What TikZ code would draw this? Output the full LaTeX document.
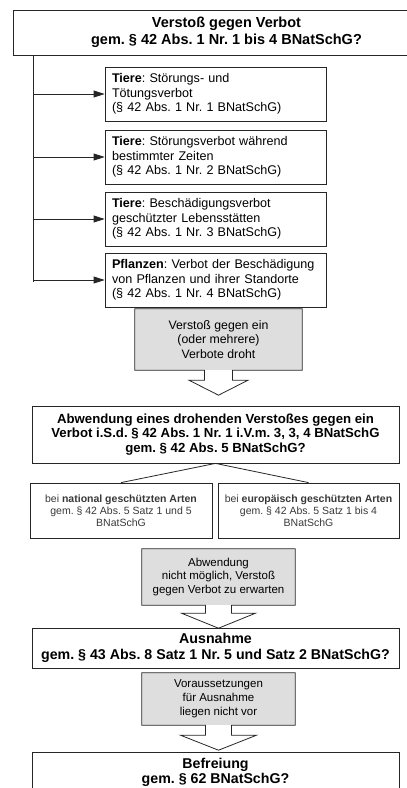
\documentclass[tikz,border=0pt]{standalone}
\usepackage{fontspec}
\setmainfont{Liberation Sans}
\frenchspacing
\usetikzlibrary{arrows.meta,calc}

\tikzset{
  frame/.style={draw=black!85, line width=0.8pt, rectangle, inner sep=0pt},
  verbot/.style={frame, minimum width=221pt, minimum height=54pt, text width=207pt,
    align=left, font=\fontsize{12.6}{14.5}\selectfont},
  frage/.style={frame, minimum width=367pt, align=center, font=\bfseries},
  art/.style={frame, minimum height=55pt, align=center, text=black!78,
    font=\fontsize{10.5}{12}\selectfont},
  folge/.style={fill=black!13, inner sep=0pt, align=center},
  pfeil/.style={draw=black!85, line width=0.8pt, -{Triangle[length=11pt,width=7pt]}},
  linie/.style={draw=black!85, line width=0.8pt}
}

\begin{document}
\begin{tikzpicture}[x=1pt,y=-1pt]
\useasboundingbox (0,0) rectangle (407,788);

% Ausgangsfrage
\node[frame, minimum width=427pt, minimum height=45pt, align=center,
  font=\fontsize{14.5}{17}\selectfont\bfseries] (frage) at (226.5,32.5)
  {Verstoß gegen Verbot\\gem. § 42 Abs. 1 Nr. 1 bis 4 BNatSchG?};

% die vier Verbote
\node[verbot] (tiere1) at (215.5,94) {\textbf{Tiere}: Störungs- und\\Tötungsverbot\\(§ 42 Abs. 1 Nr. 1 BNatSchG)};
\node[verbot] (tiere2) at (215.5,157) {\textbf{Tiere}: Störungsverbot während\\bestimmter Zeiten\\(§ 42 Abs. 1 Nr. 2 BNatSchG)};
\node[verbot] (tiere3) at (215.5,219) {\textbf{Tiere}: Beschädigungsverbot\\geschützter Lebensstätten\\(§ 42 Abs. 1 Nr. 3 BNatSchG)};
\node[verbot] (pflanzen) at (215.5,280) {\textbf{Pflanzen}: Verbot der Beschädigung\\von Pflanzen und ihrer Standorte\\(§ 42 Abs. 1 Nr. 4 BNatSchG)};

\coordinate (stamm) at (33,282);
\draw[linie] (frage.south -| stamm) -- (stamm);
\foreach \v in {tiere1,tiere2,tiere3,pflanzen}
  \draw[pfeil] (stamm |- \v.west) -- (\v.west);

% Verstoss droht
\node[folge, minimum width=167pt, minimum height=61pt,
  font=\fontsize{12.3}{14.5}\selectfont] (droht) at (218.5,339.5)
  {Verstoß gegen ein\\(oder mehrere)\\Verbote droht};

\node[frage, minimum height=57pt, font=\fontsize{13.2}{14.8}\selectfont\bfseries] (abwendung) at (215.5,434.5)
  {Abwendung eines drohenden Verstoßes gegen ein\\Verbot i.S.d. § 42 Abs. 1 Nr. 1 i.V.m. 3, 3, 4 BNatSchG\\gem. § 42 Abs. 5 BNatSchG?};

\node[art, minimum width=182pt] (national) at (121,510.5)
  {bei \textbf{national geschützten Arten}\\gem. § 42 Abs. 5 Satz 1 und 5\\BNatSchG};
\node[art, minimum width=181pt] (europa) at (308.5,510.5)
  {bei \textbf{europäisch geschützten Arten}\\gem. § 42 Abs. 5 Satz 1 bis 4\\BNatSchG};
\draw[linie] (abwendung.south) -- (national.north);
\draw[linie] (abwendung.south) -- (europa.north);

% Abwendung nicht moeglich
\node[folge, minimum width=153pt, minimum height=56pt,
  font=\fontsize{11.5}{13.7}\selectfont] (nichtmoeglich) at (218.5,577)
  {Abwendung\\nicht möglich, Verstoß\\gegen Verbot zu erwarten};

\node[frage, minimum height=40pt, font=\fontsize{14.2}{16}\selectfont\bfseries] (ausnahme) at (215.5,648)
  {Ausnahme\\gem. § 43 Abs. 8 Satz 1 Nr. 5 und Satz 2 BNatSchG?};

% keine Ausnahme
\node[folge, minimum width=153pt, minimum height=52pt,
  font=\fontsize{11.5}{14}\selectfont] (keine) at (218.5,699)
  {Voraussetzungen\\für Ausnahme\\liegen nicht vor};

\node[frage, minimum height=40pt, font=\fontsize{14.2}{15}\selectfont\bfseries] (befreiung) at (215.5,772)
  {Befreiung\\gem. § 62 BNatSchG?};

% Umriss der Pfeilkaesten
\foreach \k/\s/\h/\l in {droht/14/29.5/10, nichtmoeglich/13/37/8, keine/13/38/10}
  \draw[linie] (\k.south west) -- (\k.north west) -- (\k.north east) -- (\k.south east)
    -- ($(\k.south)+(\s,0)$) -- ++(0,\l) -- ++({\h-\s},0) -- ++(-\h,15) -- ++(-\h,-15)
    -- ++({\h-\s},0) -- ++(0,-\l) -- cycle;
\end{tikzpicture}
\end{document}
